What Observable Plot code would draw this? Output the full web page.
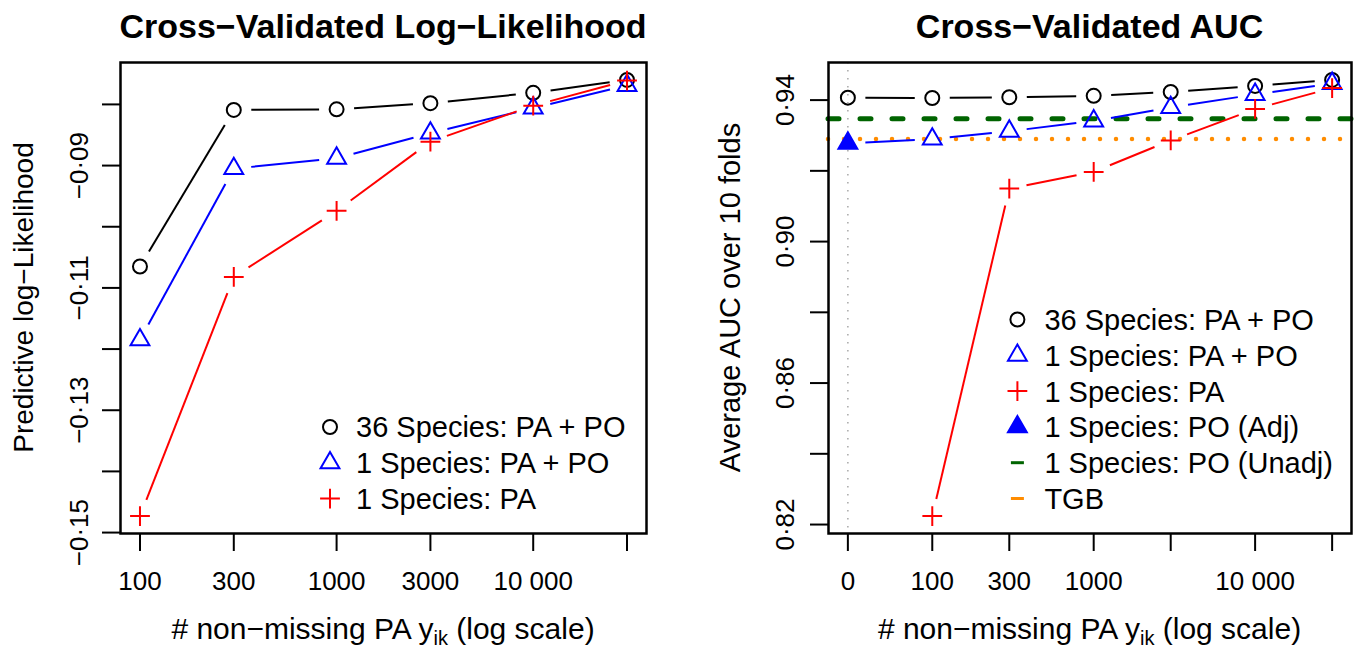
<!DOCTYPE html>
<html><head><meta charset="utf-8">
<script src="https://cdn.jsdelivr.net/npm/d3@7"></script>
<script src="https://cdn.jsdelivr.net/npm/@observablehq/plot@0.6"></script>
<style>
html,body{margin:0;padding:0;background:#fff;}
#wrap{display:flex;width:1360px;height:649px;overflow:hidden;}
#wrap svg{display:block;}
</style></head><body><div id="wrap"></div>
<script>
// ---------------- data ----------------
// left panel: cross-validated predictive log-likelihood
const paSizes = [100, 300, 1000, 3000, 10000, 30000];
const llMulti36 = [-0.1065, -0.0809, -0.0808, -0.0798, -0.0781, -0.0760];
const llSingle = [-0.1185, -0.0905, -0.0888, -0.0847, -0.0806, -0.0769];
const llPAonly = [-0.1473, -0.1082, -0.0974, -0.0861, -0.0802, -0.0761];
const llYTicks = [-0.15, -0.14, -0.13, -0.12, -0.11, -0.10, -0.09, -0.08];
const llYTickLabels = ["−0·15", "", "−0·13", "", "−0·11", "", "−0·09", ""];
const llXTickLabels = ["100", "300", "1000", "3000", "10 000", ""];

// right panel: cross-validated AUC
const aucSizes = [0, 100, 300, 1000, 3000, 10000, 30000];
const zeroSizeAt = 30; // log-axis position used for the "0" category
const aucMulti36 = [0.9407, 0.9406, 0.9408, 0.9412, 0.9423, 0.9440, 0.9457];
const aucSingle = [NaN, 0.9290, 0.9312, 0.9341, 0.9379, 0.9416, 0.9447];
const aucPAonly = [NaN, 0.8224, 0.9150, 0.9197, 0.9286, 0.9375, 0.9434];
const aucPOAdj = 0.9278;     // at 0 PA observations
const aucPOUnadj = 0.9347;
const aucTGB = 0.9290;
const aucYTicks = [0.82, 0.84, 0.86, 0.88, 0.90, 0.92, 0.94];
const aucYTickLabels = ["0·82", "", "0·86", "", "0·90", "", "0·94"];
const aucXTickLabels = ["0", "100", "300", "1000", "", "10 000", ""];

const legendLL = ["36 Species: PA + PO", "1 Species: PA + PO", "1 Species: PA"];
const legendAUC = ["36 Species: PA + PO", "1 Species: PA + PO", "1 Species: PA",
  "1 Species: PO (Adj)", "1 Species: PO (Unadj)", "TGB"];

// ---------------- helpers ----------------
const FONT = "'Liberation Sans', Arial, Helvetica, sans-serif";
const BLUE = "#0000ff", RED = "#ff0000", GREEN = "#006400", ORANGE = "#ff8c00";
const plusSym = {draw(ctx, size) {
  const r = Math.sqrt(size / Math.PI) * Math.SQRT2;
  ctx.moveTo(-r, 0); ctx.lineTo(r, 0); ctx.moveTo(0, -r); ctx.lineTo(0, r);
}};
// R-style axis limits: data range extended by 4% on each side
function rRange(vals) {
  const lo = d3.min(vals), hi = d3.max(vals), e = 0.04 * (hi - lo);
  return [lo - e, hi + e];
}
// R type="b" lines: segments that stop short of each point
function gapSegments(pts, xLogDom, yDom, W, H, gap) {
  const kx = W / (xLogDom[1] - xLogDom[0]), ky = H / (yDom[1] - yDom[0]);
  const out = [];
  for (let i = 1; i < pts.length; i++) {
    const a = pts[i - 1], b = pts[i];
    const la = Math.log10(a.x), lb = Math.log10(b.x);
    const len = Math.hypot((lb - la) * kx, (b.y - a.y) * ky);
    const f = gap / len;
    if (f < 0.5) out.push({
      x1: 10 ** (la + f * (lb - la)), y1: a.y + f * (b.y - a.y),
      x2: 10 ** (lb - f * (lb - la)), y2: b.y - f * (b.y - a.y)
    });
  }
  return out;
}
const pts = (xs, ys) => xs.map((x, i) => ({x, y: ys[i]})).filter(d => Number.isFinite(d.y));

function addText(svg, {x, y, text, size = 29, weight = "normal", anchor = "middle", rotate = 0}) {
  const t = d3.select(svg).append("text")
    .attr("transform", `translate(${x},${y}) rotate(${rotate})`)
    .attr("text-anchor", anchor).attr("font-family", FONT)
    .attr("font-size", size).attr("font-weight", weight).attr("fill", "black");
  if (Array.isArray(text)) {
    text.forEach(p => t.append("tspan").attr("font-size", p.size || size).attr("dy", p.dy || 0).text(p.t));
  } else t.text(text);
  return t;
}
function addLegend(svg, items, sx, tx, y0, step) {
  const g = d3.select(svg).append("g");
  items.forEach((it, i) => {
    const cy = y0 + i * step;
    if (it.kind === "dash") {
      g.append("line").attr("x1", sx - 6.5).attr("x2", sx + 6.5).attr("y1", cy).attr("y2", cy)
        .attr("stroke", it.color).attr("stroke-width", 3);
    } else {
      const sym = it.kind === "circle" ? d3.symbolCircle : it.kind === "plus" ? plusSym : d3.symbolTriangle;
      g.append("path").attr("d", d3.symbol(sym, Math.PI * 49)())
        .attr("transform", `translate(${sx},${cy})`)
        .attr("fill", it.fill || "none").attr("stroke", it.color).attr("stroke-width", 2);
    }
    g.append("text").attr("x", tx).attr("y", cy).attr("dy", "0.36em").attr("text-anchor", "start")
      .attr("font-family", FONT).attr("font-size", 29).attr("fill", "black").text(it.label);
  });
}
const xTitle = [
  {t: "# non−missing PA y"}, {t: "ik", size: 20, dy: 6}, {t: " (log scale)", dy: -6}
];

// ---------------- left panel ----------------
{
  const M = {top: 62, right: 34, bottom: 116, left: 120}, Wd = 680, Ht = 649;
  const W = Wd - M.left - M.right, H = Ht - M.top - M.bottom;
  const xLog = rRange(paSizes.map(Math.log10));
  const yDom = rRange([...llMulti36, ...llSingle, ...llPAonly]);
  const series = [
    {ys: llMulti36, color: "black", symbol: "circle"},
    {ys: llSingle, color: BLUE, symbol: "triangle"},
    {ys: llPAonly, color: RED, symbol: plusSym}
  ];
  const xLab = new Map(paSizes.map((d, i) => [d, llXTickLabels[i]]));
  const yLab = new Map(llYTicks.map((d, i) => [d, llYTickLabels[i]]));
  const marks = [];
  for (const s of series) {
    const p = pts(paSizes, s.ys);
    marks.push(Plot.link(gapSegments(p, xLog, yDom, W, H, 17.5),
      {x1: "x1", y1: "y1", x2: "x2", y2: "y2", stroke: s.color, strokeWidth: 2}));
    marks.push(Plot.dot(p, {x: "x", y: "y", symbol: () => s.symbol, r: 7, stroke: s.color, strokeWidth: 2, fill: "none"}));
  }
  const svg = Plot.plot({
    width: Wd, height: Ht, marginTop: M.top, marginRight: M.right, marginBottom: M.bottom, marginLeft: M.left,
    x: {type: "log", domain: xLog.map(v => 10 ** v)},
    y: {domain: yDom},
    symbol: {type: "identity"},
    style: {fontFamily: FONT, fontSize: "26px", color: "black", background: "white", overflow: "visible"},
    marks: [
      ...marks,
      Plot.axisX({ticks: paSizes, tickFormat: d => xLab.get(d), tickSize: 18, tickPadding: 20, strokeWidth: 2, fontSize: 26, label: null}),
      Plot.axisY({ticks: llYTicks, tickFormat: () => "", tickSize: 18, strokeWidth: 2, label: null}),
      Plot.text(llYTicks.filter(d => yLab.get(d)), {y: d => d, text: d => yLab.get(d), frameAnchor: "left", dx: -33,
        rotate: -90, textAnchor: "middle", lineAnchor: "bottom", fontSize: 26}),
      Plot.frame({stroke: "black", strokeWidth: 2.5})
    ]
  });
  addText(svg, {x: M.left + W / 2, y: 38, text: "Cross−Validated Log−Likelihood", size: 34, weight: "bold"});
  addText(svg, {x: M.left + W / 2, y: 639, text: xTitle, size: 30});
  addText(svg, {x: 33, y: M.top + H / 2, text: "Predictive log−Likelihood", size: 28, rotate: -90});
  addLegend(svg, [
    {kind: "circle", color: "black", label: legendLL[0]},
    {kind: "triangle", color: BLUE, label: legendLL[1]},
    {kind: "plus", color: RED, label: legendLL[2]}
  ], 330, 356, 427, 35.8);
  document.getElementById("wrap").append(svg);
}

// ---------------- right panel ----------------
{
  const M = {top: 62, right: 9, bottom: 116, left: 148}, Wd = 680, Ht = 649;
  const W = Wd - M.left - M.right, H = Ht - M.top - M.bottom;
  const xPos = aucSizes.map(d => d === 0 ? zeroSizeAt : d);
  const xLog = rRange(xPos.map(Math.log10));
  const yDom = rRange([...aucMulti36, ...aucSingle, ...aucPAonly, aucPOAdj].filter(Number.isFinite));
  const singleWithPO = aucSingle.map((v, i) => aucSizes[i] === 0 ? aucPOAdj : v);
  const series = [
    {ys: aucMulti36, color: "black", symbol: "circle"},
    {ys: singleWithPO, color: BLUE, symbol: "triangle", skipFirst: true},
    {ys: aucPAonly, color: RED, symbol: plusSym}
  ];
  const xLab = new Map(xPos.map((d, i) => [d, aucXTickLabels[i]]));
  const yLab = new Map(aucYTicks.map((d, i) => [d, aucYTickLabels[i]]));
  const marks = [
    Plot.ruleX([zeroSizeAt], {stroke: "#a8a8a8", strokeWidth: 1.5, strokeDasharray: "1.5,6.5"}),
    Plot.ruleY([aucPOUnadj], {stroke: GREEN, strokeWidth: 5, strokeDasharray: "11,21", strokeLinecap: "round"}),
    Plot.ruleY([aucTGB], {stroke: ORANGE, strokeWidth: 4.5, strokeDasharray: "0,16", strokeLinecap: "round"})
  ];
  for (const s of series) {
    const p = pts(xPos, s.ys);
    marks.push(Plot.link(gapSegments(p, xLog, yDom, W, H, 17.5),
      {x1: "x1", y1: "y1", x2: "x2", y2: "y2", stroke: s.color, strokeWidth: 2}));
    marks.push(Plot.dot(s.skipFirst ? p.slice(1) : p, {x: "x", y: "y", symbol: () => s.symbol, r: 7, stroke: s.color, strokeWidth: 2, fill: "none"}));
  }
  marks.push(Plot.dot([{x: zeroSizeAt, y: aucPOAdj}], {x: "x", y: "y", symbol: () => "triangle", r: 7, stroke: BLUE, strokeWidth: 2, fill: BLUE}));
  const svg = Plot.plot({
    width: Wd, height: Ht, marginTop: M.top, marginRight: M.right, marginBottom: M.bottom, marginLeft: M.left,
    x: {type: "log", domain: xLog.map(v => 10 ** v)},
    y: {domain: yDom},
    symbol: {type: "identity"},
    style: {fontFamily: FONT, fontSize: "26px", color: "black", background: "white", overflow: "visible"},
    marks: [
      ...marks,
      Plot.axisX({ticks: xPos, tickFormat: d => xLab.get(d), tickSize: 18, tickPadding: 20, strokeWidth: 2, fontSize: 26, label: null}),
      Plot.axisY({ticks: aucYTicks, tickFormat: () => "", tickSize: 18, strokeWidth: 2, label: null}),
      Plot.text(aucYTicks.filter(d => yLab.get(d)), {y: d => d, text: d => yLab.get(d), frameAnchor: "left", dx: -35,
        rotate: -90, textAnchor: "middle", lineAnchor: "bottom", fontSize: 26}),
      Plot.frame({stroke: "black", strokeWidth: 2.5})
    ]
  });
  addText(svg, {x: M.left + W / 2, y: 38, text: "Cross−Validated AUC", size: 34, weight: "bold"});
  addText(svg, {x: M.left + W / 2, y: 639, text: xTitle, size: 30});
  addText(svg, {x: 60, y: M.top + H / 2, text: "Average AUC over 10 folds", size: 29, rotate: -90});
  addLegend(svg, [
    {kind: "circle", color: "black", label: legendAUC[0]},
    {kind: "triangle", color: BLUE, label: legendAUC[1]},
    {kind: "plus", color: RED, label: legendAUC[2]},
    {kind: "triangle", color: BLUE, fill: BLUE, label: legendAUC[3]},
    {kind: "dash", color: GREEN, label: legendAUC[4]},
    {kind: "dash", color: ORANGE, label: legendAUC[5]}
  ], 337.4, 364.4, 319.5, 35.8);
  document.getElementById("wrap").append(svg);
}
</script></body></html>
